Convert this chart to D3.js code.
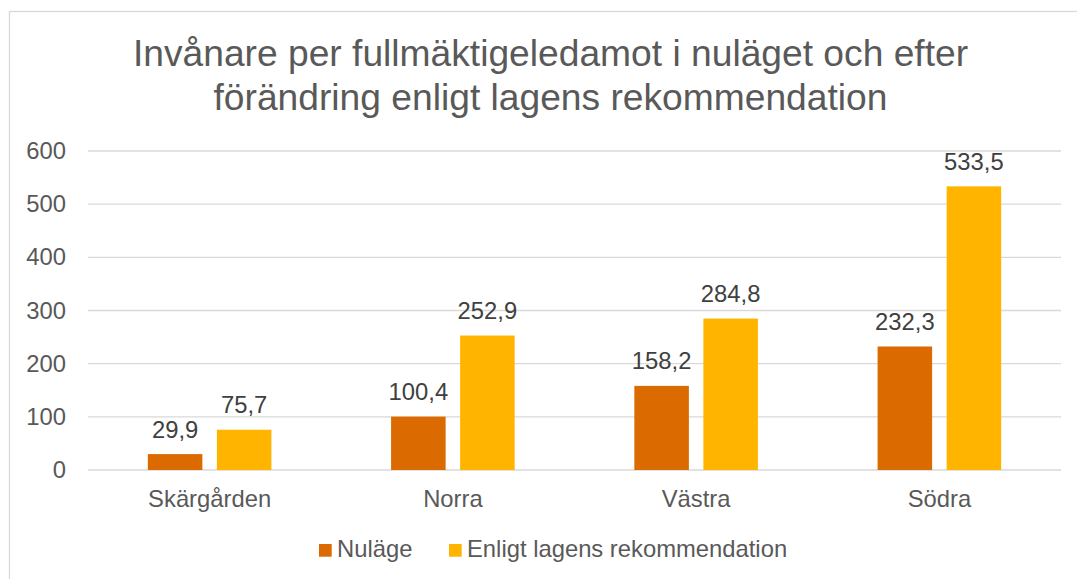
<!DOCTYPE html>
<html>
<head>
<meta charset="utf-8">
<script src="https://cdn.jsdelivr.net/npm/d3@7"></script>
<style>
  body { margin: 0; background: #fff; }
  svg text { font-family: Arial, "Liberation Sans", sans-serif; }
</style>
</head>
<body>
<div id="chart"></div>
<script>
// Data
const categories = ["Skärgården", "Norra", "Västra", "Södra"];
const seriesNames = ["Nuläge", "Enligt lagens rekommendation"];
const nulage = [29.9, 100.4, 158.2, 232.3];
const enligt = [75.7, 252.9, 284.8, 533.5];
const yTicks = [0, 100, 200, 300, 400, 500, 600];
const titleLines = ["Invånare per fullmäktigeledamot i nuläget och efter",
                    "förändring enligt lagens rekommendation"];
const colors = ["#DB6A00", "#FFB400"];

const width = 1077;
const height = 579;
const fs = 23.8;

const svg = d3.select("#chart")
  .append("svg")
  .attr("width", width)
  .attr("height", height);

// chart border (runs off right and bottom)
svg.append("rect")
  .attr("x", 9.5).attr("y", 11.5)
  .attr("width", 1100).attr("height", 600)
  .attr("fill", "none")
  .attr("stroke", "#d9d9d9")
  .attr("stroke-width", 1.3);

// title
svg.append("g")
  .selectAll("text")
  .data(titleLines)
  .join("text")
  .attr("x", 550.5)
  .attr("y", (d, i) => 66 + i * 44)
  .attr("text-anchor", "middle")
  .attr("fill", "#595959")
  .attr("font-size", 37.2)
  .text(d => d);

const x0 = d3.scaleBand()
  .domain(categories)
  .range([88, 1061])
  .paddingInner(0.492)
  .paddingOuter(0.246);

const x1 = d3.scaleBand()
  .domain(seriesNames)
  .range([0, x0.bandwidth()])
  .paddingInner(0.21);

const y = d3.scaleLinear()
  .domain([0, 600])
  .range([470, 151]);

// gridlines
svg.append("g")
  .selectAll("line")
  .data(yTicks)
  .join("line")
  .attr("x1", 88).attr("x2", 1061)
  .attr("y1", d => y(d)).attr("y2", d => y(d))
  .attr("stroke", "#d9d9d9")
  .attr("stroke-width", 1.3);

// y axis labels
const yAxis = svg.append("g")
  .attr("transform", "translate(66,0)")
  .call(d3.axisLeft(y).tickValues(yTicks).tickSize(0).tickPadding(0));
yAxis.select(".domain").remove();
yAxis.selectAll("text")
  .attr("font-size", fs)
  .attr("fill", "#595959")
  .attr("font-family", null);

// x axis labels
const xAxis = svg.append("g")
  .attr("transform", "translate(0,470)")
  .call(d3.axisBottom(x0).tickSize(0).tickPadding(20));
xAxis.select(".domain").remove();
xAxis.selectAll("text")
  .attr("font-size", fs)
  .attr("fill", "#595959")
  .attr("font-family", null);

const fmt = d3.formatLocale({ decimal: ",", thousands: " ", grouping: [3], currency: ["", " kr"] }).format(".1f");

const rows = categories.map((c, i) => ({ cat: c, vals: [nulage[i], enligt[i]] }));

const groups = svg.append("g")
  .selectAll("g")
  .data(rows)
  .join("g")
  .attr("transform", d => `translate(${x0(d.cat)},0)`);

groups.selectAll("rect")
  .data(d => d.vals.map((v, j) => ({ s: seriesNames[j], v, j })))
  .join("rect")
  .attr("x", d => x1(d.s))
  .attr("y", d => y(d.v))
  .attr("width", x1.bandwidth())
  .attr("height", d => y(0) - y(d.v))
  .attr("fill", d => colors[d.j]);

groups.selectAll("text")
  .data(d => d.vals.map((v, j) => ({ s: seriesNames[j], v, j })))
  .join("text")
  .attr("x", d => x1(d.s) + x1.bandwidth() / 2)
  .attr("y", d => y(d.v) - 16.5)
  .attr("text-anchor", "middle")
  .attr("font-size", fs)
  .attr("fill", "#404040")
  .text(d => fmt(d.v));

// legend
const legendX = [319, 449];
const legend = svg.append("g")
  .selectAll("g")
  .data(seriesNames)
  .join("g")
  .attr("transform", (d, i) => `translate(${legendX[i]},544)`);
legend.append("rect")
  .attr("width", 12.7).attr("height", 12.7)
  .attr("fill", (d, i) => colors[i]);
legend.append("text")
  .attr("x", 18)
  .attr("y", 12.7)
  .attr("font-size", fs)
  .attr("fill", "#595959")
  .text(d => d);
</script>
</body>
</html>
